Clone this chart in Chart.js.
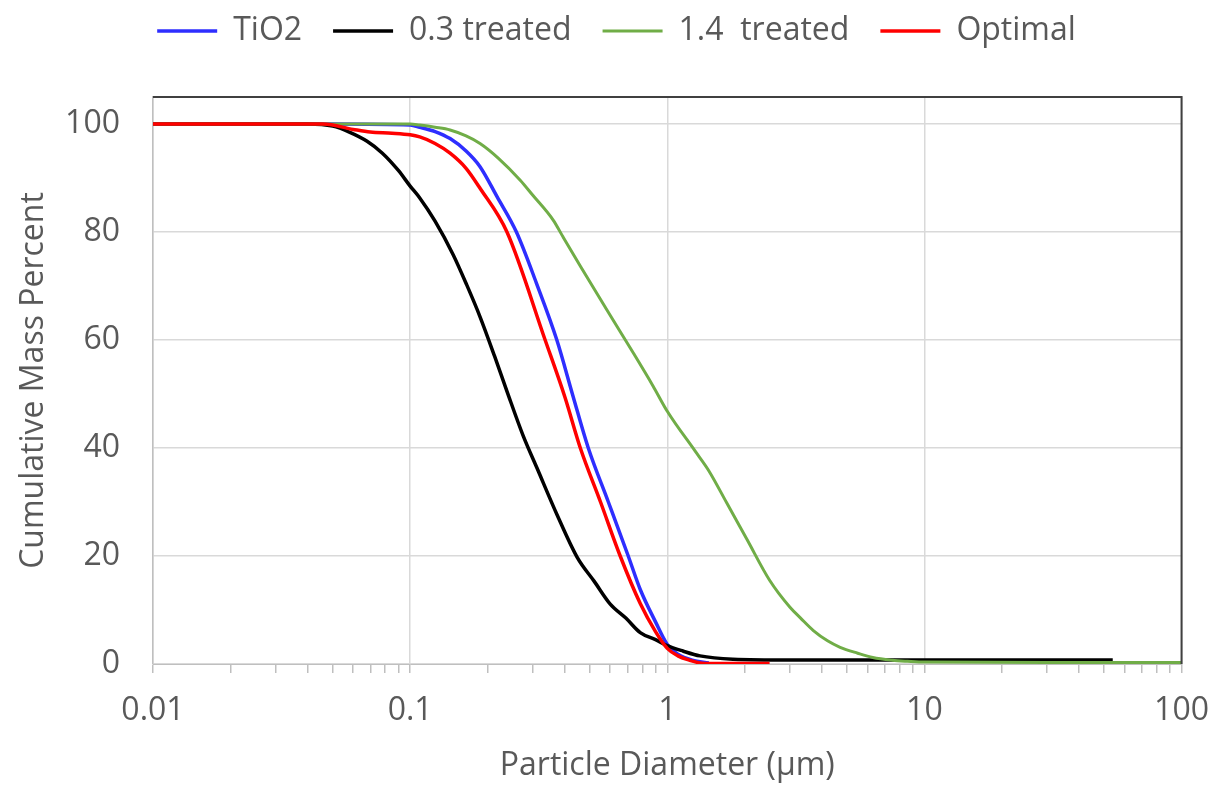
<!DOCTYPE html>
<html>
<head>
<meta charset="utf-8">
<script src="https://cdn.jsdelivr.net/npm/chart.js@4"></script>
<style>
  html, body { margin: 0; padding: 0; background: #fff; }
</style>
</head>
<body>
<canvas id="psd" width="1215" height="785"></canvas>
<script>
// --- data ---
const xMajorTicks = [0.01, 0.1, 1, 10, 100];
const yTicks = [0, 20, 40, 60, 80, 100];

const tio2X = [0.01, 0.05, 0.1, 0.109, 0.125, 0.143, 0.165, 0.187, 0.218, 0.259, 0.31, 0.372, 0.43, 0.493, 0.59, 0.705, 0.785, 0.9, 1.0, 1.1, 1.25, 1.45];
const tio2Y = [100, 100, 99.8, 99.4, 98.6, 97.3, 95, 92.1, 86.5, 80, 70.5, 60, 49.6, 40, 30, 20, 13.8, 7.8, 3.6, 1.8, 0.7, 0.2];

const t03X = [0.01, 0.04, 0.05, 0.058, 0.068, 0.078, 0.09, 0.1, 0.109, 0.125, 0.147, 0.166, 0.187, 0.213, 0.238, 0.275, 0.312, 0.373, 0.447, 0.52, 0.6, 0.69, 0.785, 0.9, 1.0, 1.15, 1.34, 1.8, 3, 10, 54];
const t03Y = [100, 100, 99.6, 98.5, 96.8, 94.6, 91.4, 88.5, 86.3, 82, 75.8, 70.2, 64.3, 57, 50.5, 42.3, 36.2, 27.6, 19.7, 15.3, 11.1, 8.5, 5.8, 4.5, 3.4, 2.4, 1.5, 0.9, 0.75, 0.75, 0.75];

const t14X = [0.01, 0.1, 0.109, 0.125, 0.143, 0.165, 0.187, 0.22, 0.268, 0.3, 0.36, 0.393, 0.46, 0.585, 0.74, 0.88, 1.0, 1.28, 1.45, 1.7, 2.05, 2.5, 3.0, 3.3, 3.7, 4.2, 4.7, 5.5, 6.3, 7.5, 8.6, 10, 30, 100];
const t14Y = [100, 100, 99.8, 99.4, 98.9, 97.8, 96.4, 93.7, 89.6, 86.8, 82.2, 79.1, 73.6, 65.4, 57.5, 51.5, 46.8, 39.5, 35.8, 29.9, 22.9, 15.5, 10.5, 8.5, 6.2, 4.3, 3.1, 2.0, 1.2, 0.7, 0.5, 0.35, 0.3, 0.3];

const optX = [0.01, 0.046, 0.06, 0.07, 0.085, 0.1, 0.109, 0.125, 0.143, 0.165, 0.187, 0.238, 0.335, 0.4, 0.459, 0.55, 0.656, 0.785, 0.9, 1.0, 1.1, 1.2, 1.4, 2.5];
const optY = [100, 100, 99, 98.5, 98.3, 98, 97.6, 96.4, 94.6, 91.8, 88.1, 80, 60, 49.4, 40, 30, 20, 11.2, 6, 2.9, 1.5, 0.8, 0.1, 0.1];

const toPoints = (xs, ys) => xs.map((x, i) => ({ x: x, y: ys[i] }));

// minor ticks 2..9 of every decade, majors at the powers of ten
function logTicks() {
    const ticks = [];
    xMajorTicks.forEach((m, i) => {
        ticks.push({ value: m, major: true });
        if (i < xMajorTicks.length - 1) {
            for (let k = 2; k <= 9; k++) {
                ticks.push({ value: Number((k * m).toPrecision(2)), major: false });
            }
        }
    });
    return ticks;
}

const textColor = '#595959';
const fontFamily = "'Open Sans', sans-serif";
const font32 = { family: fontFamily, size: 32 };

function lineSet(label, data, color, width, order) {
    return {
        label: label,
        data: data,
        borderColor: color,
        backgroundColor: color,
        borderWidth: width,
        pointRadius: 0,
        pointHoverRadius: 0,
        showLine: true,
        cubicInterpolationMode: 'monotone',
        order: order
    };
}

// legend box height so the plot starts below it
const legendHeight = {
    id: 'legendHeight',
    beforeInit(chart) {
        const fit = chart.legend.fit;
        chart.legend.fit = function () {
            fit.call(this);
            this.height = 113;
        };
    }
};

// dark frame on top and right of the plot area
const frameLines = {
    id: 'frameLines',
    afterDatasetsDraw(chart) {
        const { ctx, chartArea: { top, right, bottom, left } } = chart;
        ctx.save();
        ctx.strokeStyle = '#404040';
        ctx.lineWidth = 2;
        ctx.beginPath();
        ctx.moveTo(left, top);
        ctx.lineTo(right, top);
        ctx.lineTo(right, bottom);
        ctx.stroke();
        ctx.restore();
    }
};

new Chart(document.getElementById('psd').getContext('2d'), {
    type: 'scatter',
    data: {
        datasets: [
            lineSet('TiO2', toPoints(tio2X, tio2Y), '#2E2EFF', 3.5, 4),
            lineSet('0.3 treated', toPoints(t03X, t03Y), '#000000', 3.5, 3),
            lineSet('1.4  treated', toPoints(t14X, t14Y), '#70AD47', 3, 2),
            lineSet('Optimal', toPoints(optX, optY), '#FF0000', 3.5, 1)
        ]
    },
    options: {
        responsive: false,
        animation: false,
        layout: { padding: { top: -16, right: 0, bottom: 0, left: 18 } },
        plugins: {
            tooltip: { enabled: false },
            legend: {
                position: 'top',
                labels: {
                    usePointStyle: true,
                    pointStyle: 'line',
                    pointStyleWidth: 60,
                    padding: 31,
                    color: textColor,
                    font: font32,
                    sort: (a, b) => a.datasetIndex - b.datasetIndex
                }
            }
        },
        scales: {
            x: {
                type: 'logarithmic',
                min: 0.01,
                max: 100,
                afterBuildTicks: (scale) => { scale.ticks = logTicks(); },
                afterFit: (scale) => { scale.height = 121; },
                border: { color: '#bfbfbf', width: 1 },
                grid: {
                    color: (c) => (c.tick && c.tick.major ? '#d9d9d9' : 'rgba(0,0,0,0)'),
                    tickColor: '#bfbfbf',
                    tickLength: 9,
                    lineWidth: 1.5
                },
                ticks: {
                    autoSkip: false,
                    maxRotation: 0,
                    padding: 6,
                    color: textColor,
                    font: { family: fontFamily, size: 32, lineHeight: 2 },
                    callback: (v) => {
                        const lg = Math.log10(v);
                        return Math.abs(lg - Math.round(lg)) < 1e-9 ? String(v) : '';
                    }
                },
                title: {
                    display: true,
                    text: 'Particle Diameter (µm)',
                    color: textColor,
                    font: font32,
                    padding: { top: 0, bottom: 0 }
                }
            },
            y: {
                min: 0,
                max: 105,
                afterBuildTicks: (scale) => { scale.ticks = yTicks.map(v => ({ value: v })); },
                afterFit: (scale) => { scale.width = 135; },
                border: { color: '#bfbfbf', width: 1.5 },
                grid: { color: '#d9d9d9', lineWidth: 1.5, drawTicks: false },
                ticks: { padding: 33, color: textColor, font: font32 },
                title: {
                    display: true,
                    text: 'Cumulative Mass Percent',
                    color: textColor,
                    font: { family: fontFamily, size: 32, lineHeight: 1 },
                    padding: { top: 0, bottom: 0 }
                }
            }
        }
    },
    plugins: [legendHeight, frameLines]
});
</script>
</body>
</html>
